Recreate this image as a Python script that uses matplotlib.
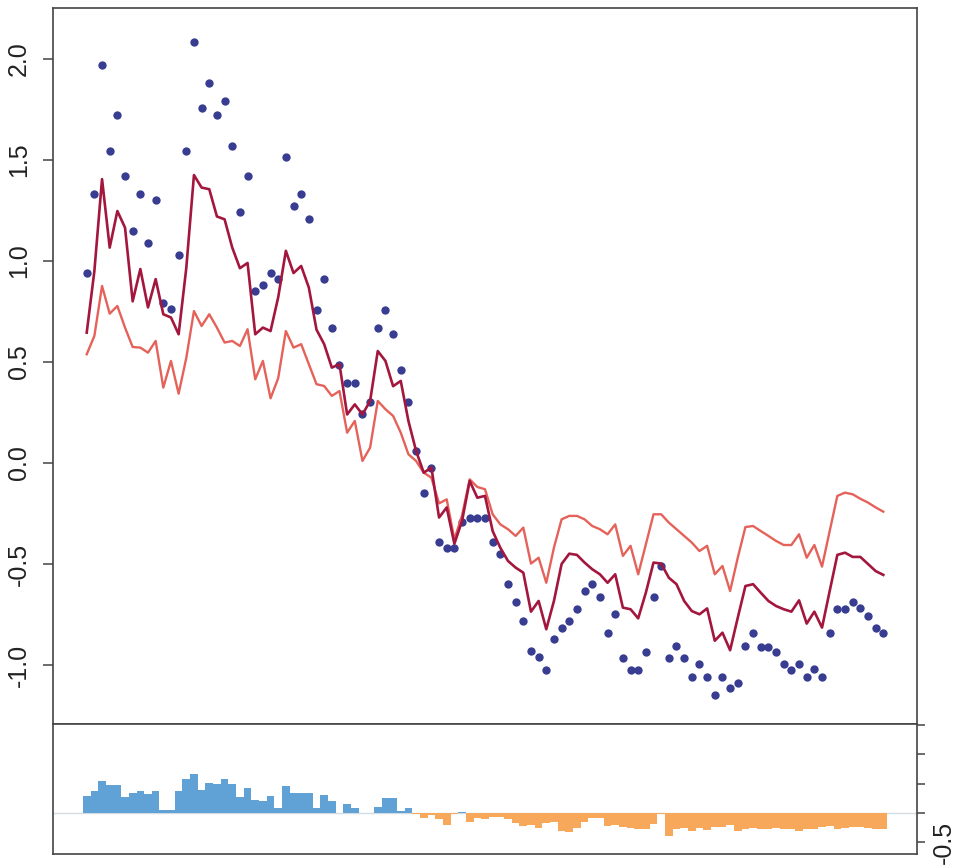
import numpy as np
import matplotlib
matplotlib.use("Agg")
import matplotlib.pyplot as plt

plt.rcParams['font.family'] = ['Liberation Sans', 'DejaVu Sans']

# observed values (dots)
observed = [
    0.94, 1.33, 1.97, 1.545, 1.72, 1.42, 1.15, 1.33, 1.09, 1.30,
    0.79, 0.76, 1.03, 1.545, 2.085, 1.755, 1.88, 1.72, 1.79, 1.57,
    1.24, 1.42, 0.85, 0.88, 0.94, 0.91, 1.515, 1.27, 1.33, 1.21,
    0.757, 0.91, 0.667, 0.485, 0.395, 0.395, 0.24, 0.30, 0.667, 0.757,
    0.637, 0.46, 0.30, 0.06, -0.147, -0.025, -0.39, -0.42, -0.42, -0.29,
    -0.27, -0.27, -0.27, -0.39, -0.45, -0.60, -0.69, -0.78, -0.93, -0.96,
    -1.025, -0.87, -0.815, -0.78, -0.725, -0.634, -0.60, -0.663, -0.843, -0.749,
    -0.967, -1.026, -1.026, -0.934, -0.663, -0.51, -0.967, -0.906, -0.967, -1.058,
    -0.997, -1.058, -1.148, -1.058, -1.115, -1.088, -0.906, -0.843, -0.909, -0.909,
    -0.934, -0.997, -1.026, -0.997, -1.058, -1.02, -1.058, -0.843, -0.725, -0.725,
    -0.69, -0.72, -0.757, -0.815, -0.843,
]

# fitted curve (dark red)
fitted = [
    0.645, 0.95, 1.405, 1.066, 1.247, 1.165, 0.80, 0.96, 0.77, 0.91,
    0.736, 0.72, 0.637, 0.965, 1.425, 1.363, 1.355, 1.22, 1.206, 1.066,
    0.964, 0.99, 0.637, 0.67, 0.653, 0.82, 1.05, 0.94, 0.975, 0.868,
    0.66, 0.588, 0.472, 0.489, 0.24, 0.29, 0.24, 0.307, 0.554, 0.505,
    0.38, 0.406, 0.208, 0.06, -0.048, -0.023, -0.27, -0.22, -0.40, -0.287,
    -0.089, -0.172, -0.163, -0.337, -0.42, -0.485, -0.518, -0.543, -0.736, -0.683,
    -0.823, -0.683, -0.50, -0.449, -0.455, -0.493, -0.526, -0.551, -0.593, -0.551,
    -0.716, -0.724, -0.769, -0.642, -0.493, -0.498, -0.568, -0.60, -0.683, -0.733,
    -0.749, -0.72, -0.88, -0.84, -0.927, -0.766, -0.609, -0.60, -0.642, -0.683,
    -0.708, -0.724, -0.736, -0.68, -0.795, -0.736, -0.815, -0.634, -0.455, -0.444,
    -0.465, -0.465, -0.50, -0.535, -0.554,
]

# second, damped curve (light red)
damped = [
    0.538, 0.629, 0.876, 0.739, 0.777, 0.67, 0.574, 0.571, 0.546, 0.604,
    0.373, 0.505, 0.343, 0.52, 0.752, 0.678, 0.736, 0.67, 0.596, 0.604,
    0.579, 0.662, 0.414, 0.505, 0.32, 0.42, 0.653, 0.571, 0.588, 0.489,
    0.39, 0.381, 0.332, 0.356, 0.15, 0.208, 0.01, 0.076, 0.307, 0.266,
    0.233, 0.15, 0.043, 0.01, -0.048, -0.073, -0.20, -0.18, -0.378, -0.26,
    -0.081, -0.119, -0.13, -0.254, -0.304, -0.328, -0.361, -0.32, -0.498, -0.469,
    -0.593, -0.419, -0.279, -0.262, -0.262, -0.279, -0.312, -0.328, -0.353, -0.304,
    -0.46, -0.41, -0.551, -0.403, -0.254, -0.254, -0.295, -0.328, -0.361, -0.394,
    -0.436, -0.41, -0.551, -0.51, -0.634, -0.469, -0.317, -0.312, -0.337, -0.361,
    -0.386, -0.406, -0.406, -0.353, -0.469, -0.406, -0.513, -0.337, -0.163, -0.147,
    -0.155, -0.177, -0.196, -0.22, -0.241,
]

# residual bars for the lower panel
residuals = [
    0.29, 0.38, 0.55, 0.47, 0.47, 0.28, 0.34, 0.37, 0.33, 0.38,
    0.05, 0.045, 0.38, 0.58, 0.67, 0.39, 0.51, 0.50, 0.58, 0.50,
    0.28, 0.42, 0.215, 0.21, 0.29, 0.09, 0.46, 0.335, 0.35, 0.34,
    0.09, 0.31, 0.20, 0.0, 0.16, 0.09, 0.0, 0.0, 0.10, 0.255,
    0.255, 0.04, 0.09, -0.02, -0.08, -0.03, -0.11, -0.20, -0.01, 0.02,
    -0.16, -0.09, -0.10, -0.06, -0.06, -0.11, -0.17, -0.22, -0.20, -0.26,
    -0.17, -0.16, -0.31, -0.32, -0.26, -0.15, -0.09, -0.09, -0.23, -0.21,
    -0.245, -0.26, -0.265, -0.28, -0.19, -0.01, -0.40, -0.27, -0.26, -0.31,
    -0.25, -0.29, -0.24, -0.24, -0.21, -0.31, -0.28, -0.26, -0.28, -0.27,
    -0.26, -0.27, -0.28, -0.30, -0.27, -0.275, -0.24, -0.23, -0.27, -0.26,
    -0.235, -0.245, -0.25, -0.275, -0.28,
]

top_ticks = [-1.0, -0.5, 0.0, 0.5, 1.0, 1.5, 2.0]
bottom_ticks = [-0.5, 0.0, 0.5, 1.0, 1.5]
bottom_labels = ['-0.5', '', '', '', '']

x = np.arange(len(observed))
res = np.array(residuals)

fig = plt.figure(figsize=(9.57, 8.68), dpi=100)
ax = fig.add_axes([0.0554, 0.1659, 0.9028, 0.8249])
axb = fig.add_axes([0.0554, 0.0161, 0.9028, 0.1498])

spine_col = '#444444'

ax.plot(x, observed, 'o', color='#383d91', markersize=6.0, markeredgewidth=0, zorder=2)
ax.plot(x, damped, color='#e5625a', linewidth=1.7, zorder=3)
ax.plot(x, fitted, color='#a3163d', linewidth=1.9, zorder=4)

ax.set_xlim(-4.4, 108.4)
ax.set_ylim(-1.292, 2.252)
ax.set_yticks(top_ticks)
ax.set_yticklabels([f'{t:.1f}' for t in top_ticks])
ax.set_xticks([])
ax.tick_params(axis='y', direction='out', length=7, width=1.1, color=spine_col,
               labelsize=18, pad=9)
plt.setp(ax.get_yticklabels(), rotation=90, va='center', color='#222222')

# residual panel
colors = np.where(res >= 0, '#60a2d5', '#f8a85a')
axb.axhline(0, color='#d3dbe3', linewidth=1.0, zorder=1)
axb.bar(x, res, width=1.0, color=colors, linewidth=0, zorder=2)
axb.set_xlim(-4.4, 108.4)
axb.set_ylim(-0.70, 1.52)
axb.set_xticks([])
axb.yaxis.tick_right()
axb.set_yticks(bottom_ticks)
axb.set_yticklabels(bottom_labels)
axb.tick_params(axis='y', direction='out', length=6, width=1.1, color=spine_col,
                labelsize=18, pad=5)
plt.setp(axb.get_yticklabels(), rotation=90, va='center', color='#222222')

for a in (ax, axb):
    for s in a.spines.values():
        s.set_color(spine_col)
        s.set_linewidth(1.2)

fig.savefig('out.png', dpi=100, facecolor='white')
